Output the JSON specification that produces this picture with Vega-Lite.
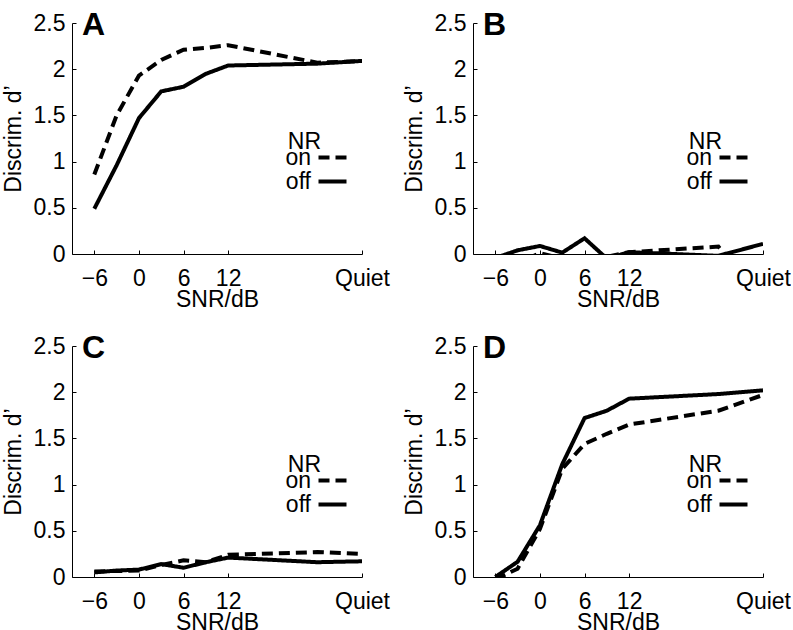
{
  "$schema": "https://vega.github.io/schema/vega-lite/v6.json",
  "padding": {"left": 2, "top": 9, "right": 0, "bottom": 0},
  "background": "white",
  "datasets": {
    "d": [
      {"p": "A", "NR": "off", "snr": -6, "d": 0.49},
      {"p": "A", "NR": "off", "snr": -3, "d": 0.96},
      {"p": "A", "NR": "off", "snr": 0, "d": 1.47},
      {"p": "A", "NR": "off", "snr": 3, "d": 1.76},
      {"p": "A", "NR": "off", "snr": 6, "d": 1.81},
      {"p": "A", "NR": "off", "snr": 9, "d": 1.95},
      {"p": "A", "NR": "off", "snr": 12, "d": 2.04},
      {"p": "A", "NR": "off", "snr": 24, "d": 2.06},
      {"p": "A", "NR": "off", "snr": 30, "d": 2.09},
      {"p": "A", "NR": "on", "snr": -6, "d": 0.86},
      {"p": "A", "NR": "on", "snr": -3, "d": 1.5},
      {"p": "A", "NR": "on", "snr": 0, "d": 1.93},
      {"p": "A", "NR": "on", "snr": 3, "d": 2.1},
      {"p": "A", "NR": "on", "snr": 6, "d": 2.21},
      {"p": "A", "NR": "on", "snr": 9, "d": 2.23},
      {"p": "A", "NR": "on", "snr": 12, "d": 2.26},
      {"p": "A", "NR": "on", "snr": 24, "d": 2.07},
      {"p": "A", "NR": "on", "snr": 30, "d": 2.09},
      {"p": "B", "NR": "off", "snr": -6, "d": -0.043},
      {"p": "B", "NR": "off", "snr": -3, "d": 0.04},
      {"p": "B", "NR": "off", "snr": 0, "d": 0.087},
      {"p": "B", "NR": "off", "snr": 3, "d": 0.015},
      {"p": "B", "NR": "off", "snr": 6, "d": 0.17},
      {"p": "B", "NR": "off", "snr": 9, "d": -0.05},
      {"p": "B", "NR": "off", "snr": 12, "d": 0.02},
      {"p": "B", "NR": "off", "snr": 24, "d": -0.02},
      {"p": "B", "NR": "off", "snr": 30, "d": 0.11},
      {"p": "B", "NR": "on", "snr": -6, "d": -0.2},
      {"p": "B", "NR": "on", "snr": -3, "d": -0.1},
      {"p": "B", "NR": "on", "snr": 0, "d": 0.01},
      {"p": "B", "NR": "on", "snr": 3, "d": -0.05},
      {"p": "B", "NR": "on", "snr": 6, "d": -0.1},
      {"p": "B", "NR": "on", "snr": 9, "d": -0.03},
      {"p": "B", "NR": "on", "snr": 12, "d": 0.02},
      {"p": "B", "NR": "on", "snr": 24, "d": 0.08},
      {"p": "B", "NR": "on", "snr": 30, "d": -0.5},
      {"p": "C", "NR": "off", "snr": -6, "d": 0.05},
      {"p": "C", "NR": "off", "snr": -3, "d": 0.07},
      {"p": "C", "NR": "off", "snr": 0, "d": 0.08},
      {"p": "C", "NR": "off", "snr": 3, "d": 0.14},
      {"p": "C", "NR": "off", "snr": 6, "d": 0.1},
      {"p": "C", "NR": "off", "snr": 9, "d": 0.16},
      {"p": "C", "NR": "off", "snr": 12, "d": 0.21},
      {"p": "C", "NR": "off", "snr": 24, "d": 0.16},
      {"p": "C", "NR": "off", "snr": 30, "d": 0.17},
      {"p": "C", "NR": "on", "snr": -6, "d": 0.06},
      {"p": "C", "NR": "on", "snr": -3, "d": 0.065},
      {"p": "C", "NR": "on", "snr": 0, "d": 0.07},
      {"p": "C", "NR": "on", "snr": 3, "d": 0.13},
      {"p": "C", "NR": "on", "snr": 6, "d": 0.18},
      {"p": "C", "NR": "on", "snr": 9, "d": 0.16},
      {"p": "C", "NR": "on", "snr": 12, "d": 0.24},
      {"p": "C", "NR": "on", "snr": 24, "d": 0.27},
      {"p": "C", "NR": "on", "snr": 30, "d": 0.25},
      {"p": "D", "NR": "off", "snr": -6, "d": 0.0},
      {"p": "D", "NR": "off", "snr": -3, "d": 0.165},
      {"p": "D", "NR": "off", "snr": 0, "d": 0.56},
      {"p": "D", "NR": "off", "snr": 3, "d": 1.22},
      {"p": "D", "NR": "off", "snr": 6, "d": 1.72},
      {"p": "D", "NR": "off", "snr": 9, "d": 1.8},
      {"p": "D", "NR": "off", "snr": 12, "d": 1.93},
      {"p": "D", "NR": "off", "snr": 24, "d": 1.98},
      {"p": "D", "NR": "off", "snr": 30, "d": 2.02},
      {"p": "D", "NR": "on", "snr": -6, "d": -0.026},
      {"p": "D", "NR": "on", "snr": -3, "d": 0.09},
      {"p": "D", "NR": "on", "snr": 0, "d": 0.52},
      {"p": "D", "NR": "on", "snr": 3, "d": 1.17},
      {"p": "D", "NR": "on", "snr": 6, "d": 1.44},
      {"p": "D", "NR": "on", "snr": 9, "d": 1.55},
      {"p": "D", "NR": "on", "snr": 12, "d": 1.65},
      {"p": "D", "NR": "on", "snr": 24, "d": 1.8},
      {"p": "D", "NR": "on", "snr": 30, "d": 1.97}
    ]
  },
  "data": {"name": "d"},
  "columns": 2,
  "spacing": {"row": 92, "column": 111},
  "bounds": "flush",
  "resolve": {"scale": {"strokeDash": "independent"}, "legend": {"strokeDash": "independent"}},
  "concat": [
    {
      "width": 290, "height": 231,
      "title": {"text": "A"},
      "transform": [{"filter": "datum.p === 'A'"}],
      "mark": {"type": "line", "clip": true, "color": "black", "strokeWidth": 4},
      "encoding": {
        "x": {"field": "snr", "type": "quantitative", "scale": {"domain": [-9, 30], "nice": false, "zero": false}, "axis": {"values": [-6, 0, 6, 12, 30], "labelExpr": "datum.value == 30 ? 'Quiet' : datum.label", "title": "SNR/dB"}},
        "y": {"field": "d", "type": "quantitative", "scale": {"domain": [0, 2.5], "nice": false}, "axis": {"values": [0, 0.5, 1, 1.5, 2, 2.5], "format": "~g", "title": "Discrim. d’"}},
        "strokeDash": {"field": "NR", "type": "nominal", "scale": {"domain": ["on", "off"], "range": [[11, 6], [1, 0]]}, "legend": {"title": "NR"}}
      }
    },
    {
      "width": 290, "height": 231,
      "title": {"text": "B"},
      "transform": [{"filter": "datum.p === 'B'"}],
      "mark": {"type": "line", "clip": true, "color": "black", "strokeWidth": 4},
      "encoding": {
        "x": {"field": "snr", "type": "quantitative", "scale": {"domain": [-9, 30], "nice": false, "zero": false}, "axis": {"values": [-6, 0, 6, 12, 30], "labelExpr": "datum.value == 30 ? 'Quiet' : datum.label", "title": "SNR/dB"}},
        "y": {"field": "d", "type": "quantitative", "scale": {"domain": [0, 2.5], "nice": false}, "axis": {"values": [0, 0.5, 1, 1.5, 2, 2.5], "format": "~g", "title": "Discrim. d’"}},
        "strokeDash": {"field": "NR", "type": "nominal", "scale": {"domain": ["on", "off"], "range": [[11, 6], [1, 0]]}, "legend": {"title": "NR"}}
      }
    },
    {
      "width": 290, "height": 231,
      "title": {"text": "C"},
      "transform": [{"filter": "datum.p === 'C'"}],
      "mark": {"type": "line", "clip": true, "color": "black", "strokeWidth": 4},
      "encoding": {
        "x": {"field": "snr", "type": "quantitative", "scale": {"domain": [-9, 30], "nice": false, "zero": false}, "axis": {"values": [-6, 0, 6, 12, 30], "labelExpr": "datum.value == 30 ? 'Quiet' : datum.label", "title": "SNR/dB"}},
        "y": {"field": "d", "type": "quantitative", "scale": {"domain": [0, 2.5], "nice": false}, "axis": {"values": [0, 0.5, 1, 1.5, 2, 2.5], "format": "~g", "title": "Discrim. d’"}},
        "strokeDash": {"field": "NR", "type": "nominal", "scale": {"domain": ["on", "off"], "range": [[11, 6], [1, 0]]}, "legend": {"title": "NR"}}
      }
    },
    {
      "width": 290, "height": 231,
      "title": {"text": "D"},
      "transform": [{"filter": "datum.p === 'D'"}],
      "mark": {"type": "line", "clip": true, "color": "black", "strokeWidth": 4},
      "encoding": {
        "x": {"field": "snr", "type": "quantitative", "scale": {"domain": [-9, 30], "nice": false, "zero": false}, "axis": {"values": [-6, 0, 6, 12, 30], "labelExpr": "datum.value == 30 ? 'Quiet' : datum.label", "title": "SNR/dB"}},
        "y": {"field": "d", "type": "quantitative", "scale": {"domain": [0, 2.5], "nice": false}, "axis": {"values": [0, 0.5, 1, 1.5, 2, 2.5], "format": "~g", "title": "Discrim. d’"}},
        "strokeDash": {"field": "NR", "type": "nominal", "scale": {"domain": ["on", "off"], "range": [[11, 6], [1, 0]]}, "legend": {"title": "NR"}}
      }
    }
  ],
  "config": {
    "font": "Liberation Sans",
    "view": {"stroke": null},
    "title": {"anchor": "start", "frame": "group", "dx": 10, "offset": -30, "baseline": "alphabetic", "fontSize": 32, "fontWeight": "bold", "color": "black", "font": "Liberation Sans"},
    "axis": {"grid": false, "domainColor": "black", "domainWidth": 1, "tickColor": "black", "tickWidth": 1, "tickSize": -4, "labelColor": "black", "titleColor": "black", "labelFont": "Liberation Sans", "titleFont": "Liberation Sans", "labelFontSize": 23, "titleFontSize": 23, "titleFontWeight": "normal"},
    "axisX": {"labelPadding": 17, "titlePadding": -2, "labelFlush": false, "labelOverlap": false},
    "axisY": {"labelPadding": 11, "titlePadding": 8, "labelOverlap": false},
    "legend": {"orient": "none", "legendX": 216, "legendY": 108, "symbolType": "M-2,0H2", "symbolStrokeWidth": 4, "symbolStrokeColor": "black", "symbolFillColor": "transparent", "symbolSize": 196, "labelAlign": "right", "labelOffset": -33, "titleAlign": "right", "labelFontSize": 23, "titleFontSize": 23, "titleFontWeight": "normal", "titleColor": "black", "labelColor": "black", "titlePadding": -8, "rowPadding": 0, "padding": 0, "labelFont": "Liberation Sans", "titleFont": "Liberation Sans"}
  }
}
